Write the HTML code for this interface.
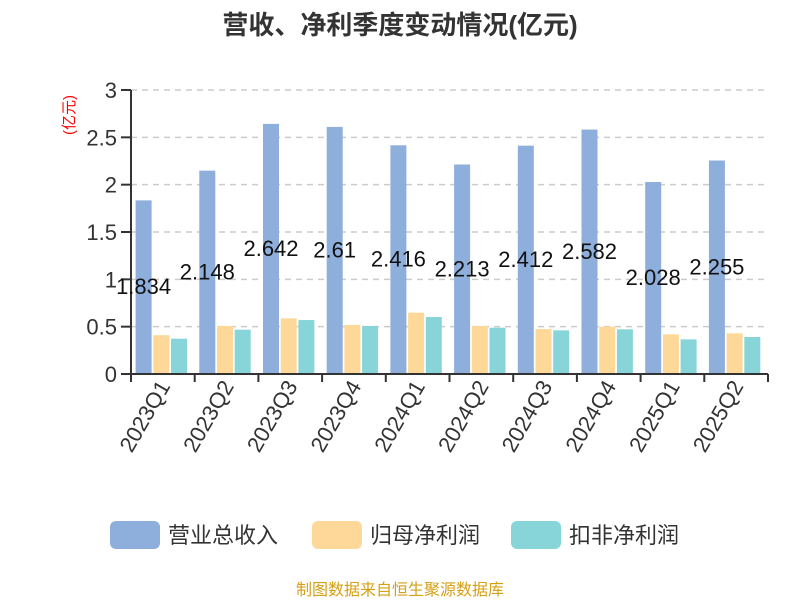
<!DOCTYPE html>
<html><head><meta charset="utf-8"><style>
body{margin:0;background:#fff;}
svg{display:block;font-family:"Liberation Sans","Noto Sans CJK SC",sans-serif;}
</style></head><body>
<svg id="chart" width="800" height="600" viewBox="0 0 800 600">
<text x="400" y="34" text-anchor="middle" font-size="26" font-weight="bold" fill="#333">营收、净利季度变动情况(亿元)</text>
<text transform="translate(74,115) rotate(-90)" text-anchor="middle" font-size="15" fill="#f00">(亿元)</text>
<g id="grid"></g><g id="bars"></g><g id="axes"></g><g id="labels"></g>
<g>
<rect x="110" y="521" width="50" height="28" rx="6" fill="#8eaedb"/>
<text x="168" y="543" font-size="22" fill="#333">营业总收入</text>
<rect x="312" y="521" width="50" height="28" rx="6" fill="#fed899"/>
<text x="370" y="543" font-size="22" fill="#333">归母净利润</text>
<rect x="511" y="521" width="50" height="28" rx="6" fill="#87d5d8"/>
<text x="569" y="543" font-size="22" fill="#333">扣非净利润</text>
</g>
<text x="400" y="595" text-anchor="middle" font-size="16" fill="#d4a017">制图数据来自恒生聚源数据库</text>
</svg>
<script>
const categories=["2023Q1","2023Q2","2023Q3","2023Q4","2024Q1","2024Q2","2024Q3","2024Q4","2025Q1","2025Q2"];
const revenue=[1.834,2.148,2.642,2.61,2.416,2.213,2.412,2.582,2.028,2.255];
const netProfit=[0.41,0.507,0.588,0.518,0.648,0.507,0.475,0.5,0.419,0.43];
const deductedProfit=[0.373,0.468,0.57,0.507,0.602,0.489,0.461,0.472,0.366,0.391];
const yTicks=[0,0.5,1,1.5,2,2.5,3];
const yTickLabels=["0","0.5","1","1.5","2","2.5","3"];

const NS="http://www.w3.org/2000/svg";
const x0=131,x1=768,y0=374,yTop=90,yMax=3;
const cw=(x1-x0)/categories.length;
function yScale(v){return y0-(v/yMax)*(y0-yTop);}
function xCat(i){return x0+i*cw;}
function mk(tag,attrs,parent){const e=document.createElementNS(NS,tag);for(const k in attrs)e.setAttribute(k,attrs[k]);parent.appendChild(e);return e;}
const grid=document.getElementById('grid'),bars=document.getElementById('bars'),axes=document.getElementById('axes'),labels=document.getElementById('labels');
yTicks.forEach((t,i)=>{
  const y=yScale(t);
  if(t>0){const g=mk('line',{x1:x0,x2:x1,y1:y,y2:y,stroke:'#ccc','stroke-width':1.5,'stroke-dasharray':'6,5'},grid);
  
  }
  const tk=mk('line',{x1:x0-10,x2:x0,y1:y,y2:y,stroke:'#333','stroke-width':2},axes);
  
  
  const tx=mk('text',{x:x0-14,y:y+8,'text-anchor':'end','font-size':22,fill:'#333'},axes);
  tx.textContent=yTickLabels[i];
  
  
});
const series=[[revenue,'#8eaedb',4.6,'bar-revenue'],[netProfit,'#fed899',22.3,'bar-net-profit'],[deductedProfit,'#87d5d8',40,'bar-deducted-profit']];
const bw=16;
categories.forEach((c,i)=>{
  series.forEach(s=>{
    const v=s[0][i],y=yScale(v);
    const r=mk('rect',{x:xCat(i)+s[2],y:y,width:bw,height:y0-y,fill:s[1]},bars);
    
    
  });
  const vy=(yScale(revenue[i])+y0)/2;
  const lb=mk('text',{x:xCat(i)+4.6+bw/2,y:vy+7,'text-anchor':'middle','font-size':22,fill:'#111'},labels);
  lb.textContent=String(revenue[i]);
  
  
  const cx=xCat(i)+cw/2;
  const xl=mk('text',{transform:`translate(${cx+8},${y0+12}) rotate(-60)`,'text-anchor':'end','font-size':22,fill:'#333'},axes);
  xl.textContent=c;
  
  
});
for(let i=0;i<=categories.length;i++){
  const t=mk('line',{x1:xCat(i),x2:xCat(i),y1:y0,y2:y0+8,stroke:'#333','stroke-width':2},axes);
  
  
}
const xa=mk('line',{x1:x0,x2:x1,y1:y0,y2:y0,stroke:'#333','stroke-width':2},axes);


const ya=mk('line',{x1:x0,x2:x0,y1:yTop,y2:y0,stroke:'#333','stroke-width':2},axes);


</script>
</body></html>
